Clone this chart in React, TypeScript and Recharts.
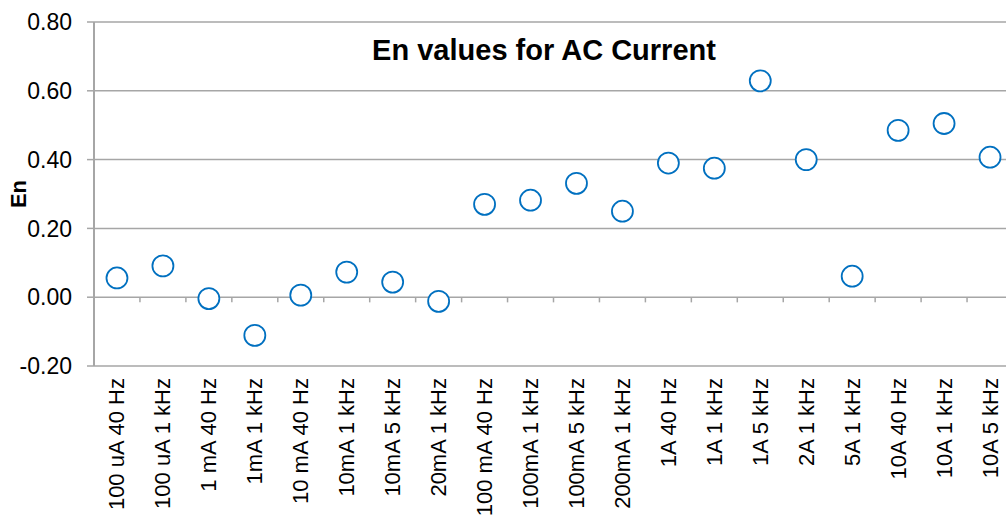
import React from "react";
import {
  ScatterChart,
  Scatter,
  XAxis,
  YAxis,
  CartesianGrid,
  ReferenceLine,
} from "recharts";

const categories = [
  "100 uA 40 Hz",
  "100 uA 1 kHz",
  "1 mA 40 Hz",
  "1mA 1 kHz",
  "10 mA 40 Hz",
  "10mA 1 kHz",
  "10mA 5 kHz",
  "20mA 1 kHz",
  "100 mA 40 Hz",
  "100mA 1 kHz",
  "100mA 5 kHz",
  "200mA 1 kHz",
  "1A 40 Hz",
  "1A 1 kHz",
  "1A 5 kHz",
  "2A 1 kHz",
  "5A 1 kHz",
  "10A 40 Hz",
  "10A 1 kHz",
  "10A 5 kHz",
];

const enValues = [
  0.056, 0.091, -0.004, -0.111, 0.006, 0.073, 0.044, -0.012, 0.27, 0.282,
  0.331, 0.25, 0.39, 0.375, 0.629, 0.4, 0.061, 0.485, 0.505, 0.407,
];

const yTicks = [-0.2, 0, 0.2, 0.4, 0.6, 0.8];

const data = categories.map((name, i) => ({ x: i + 0.5, y: enValues[i], name }));
const centers = categories.map((_, i) => i + 0.5);
const boundaries = categories.map((_, i) => i).slice(1);

const GRID = "#A6A6A6";
const FONT = "'Liberation Sans', Arial, sans-serif";

function XTick({ x, y, payload }: any) {
  const label = categories[Math.floor(payload.value)];
  return (
    <text
      x={x}
      y={y}
      transform={`rotate(-90 ${x} ${y})`}
      textAnchor="end"
      dominantBaseline="central"
      fontSize={22}
      fontFamily={FONT}
      fill="#000"
    >
      {label}
    </text>
  );
}

function Ring({ cx, cy }: any) {
  return <circle cx={cx} cy={cy} r={10.5} fill="#fff" stroke="#0070C0" strokeWidth={1.8} />;
}

export default function App() {
  return (
    <div style={{ position: "absolute", left: 0, top: 0, width: 1020, height: 518, background: "#fff" }}>
      <ScatterChart
        width={1020}
        height={518}
        margin={{ top: 22, right: 7, left: 0, bottom: 0 }}
      >
        <CartesianGrid vertical={false} stroke={GRID} strokeWidth={1.5} />
        <XAxis
          type="number"
          dataKey="x"
          domain={[0, categories.length]}
          ticks={centers}
          interval={0}
          tick={<XTick />}
          tickLine={false}
          tickSize={0}
          tickMargin={12}
          axisLine={false}
          height={152}
        />
        <YAxis
          type="number"
          dataKey="y"
          domain={[-0.2, 0.8]}
          ticks={yTicks}
          interval={0}
          width={94}
          tickFormatter={(v: number) => v.toFixed(2)}
          tick={{ fontSize: 23, fill: "#000", fontFamily: FONT }}
          tickSize={7}
          tickMargin={15}
          tickLine={{ stroke: GRID, strokeWidth: 1.5 }}
          axisLine={{ stroke: GRID, strokeWidth: 2 }}
        />
        {boundaries.map((b) => (
          <ReferenceLine
            key={b}
            segment={[
              { x: b, y: 0 },
              { x: b, y: -0.015 },
            ]}
            stroke={GRID}
            strokeWidth={1.5}
          />
        ))}
        <Scatter data={data} shape={<Ring />} isAnimationActive={false} />
      </ScatterChart>
      <div
        style={{
          position: "absolute",
          left: 544,
          top: 50,
          transform: "translate(-50%, -50%)",
          fontFamily: FONT,
          fontWeight: "bold",
          fontSize: 29,
          whiteSpace: "nowrap",
          color: "#000",
        }}
      >
        En values for AC Current
      </div>
      <div
        style={{
          position: "absolute",
          left: 19,
          top: 194,
          transform: "translate(-50%, -50%) rotate(-90deg)",
          fontFamily: FONT,
          fontWeight: "bold",
          fontSize: 22,
          whiteSpace: "nowrap",
          color: "#000",
        }}
      >
        En
      </div>
    </div>
  );
}
